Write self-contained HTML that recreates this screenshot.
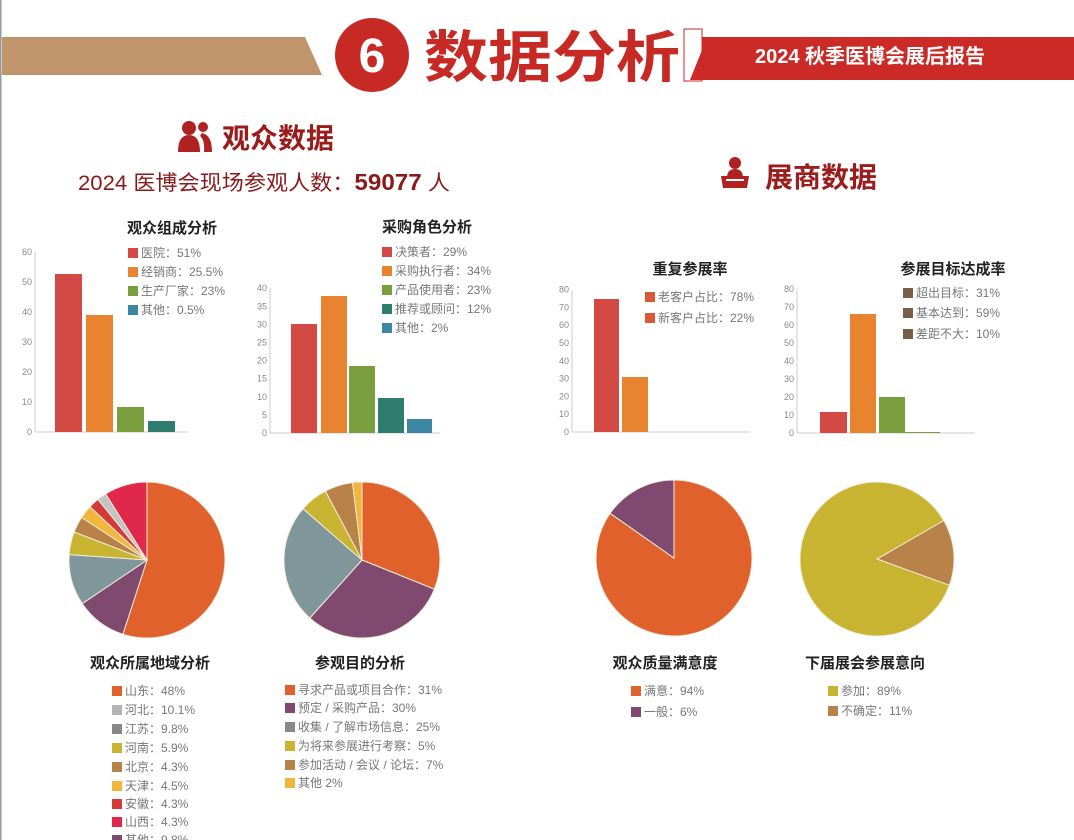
<!DOCTYPE html>
<html><head><meta charset="utf-8">
<style>
html,body{margin:0;padding:0;background:#fff;}
body{width:1074px;height:840px;overflow:hidden;position:relative;font-family:"Liberation Sans","Noto Sans CJK SC",sans-serif;}
svg{position:absolute;left:0;top:0;}
text{font-family:"Liberation Sans","Noto Sans CJK SC",sans-serif;}
.t{font-size:15px;font-weight:bold;fill:#222;text-anchor:middle;}
.lg{font-size:12px;fill:#777;}
.ax{font-size:9px;fill:#888;text-anchor:end;}
</style></head><body>
<svg id="s" width="1074" height="840" viewBox="0 0 1074 840">
<rect x="0" y="0" width="1.5" height="840" fill="#999"/>
<polygon points="2,37 305,37 322,75 2,75" fill="#c0956b"/>
<polygon points="700,37 1074,37 1074,80 690,80" fill="#cc2a27"/>
<rect x="684" y="29" width="18" height="52" fill="#fff" stroke="#cc2a27" stroke-width="1"/>
<polygon points="702,50 702,80 690,80" fill="#cc2a27"/>
<circle cx="372" cy="55" r="37" fill="#c72a24"/>
<text x="372" y="72" font-size="48" font-weight="bold" fill="#fff" text-anchor="middle">6</text>
<text x="424" y="77" font-size="56" font-weight="bold" fill="#c72a24" textLength="256" lengthAdjust="spacingAndGlyphs">数据分析</text>
<text x="870" y="63" font-size="20" font-weight="bold" fill="#fff" text-anchor="middle">2024 秋季医博会展后报告</text>
<circle cx="189" cy="128" r="7" fill="#b02222"/>
<path d="M178,152 Q178,135 189,135 Q200,135 200,152Z" fill="#b02222"/>
<circle cx="203" cy="127" r="5" fill="#b02222"/>
<path d="M202,133 Q212,135 212,152 L204,152 Q205,140 200,136Z" fill="#b02222"/>
<text x="222" y="148" font-size="28" font-weight="bold" fill="#9c1c1c">观众数据</text>
<text x="78" y="190" font-size="21" fill="#8a1a1a" textLength="372" lengthAdjust="spacingAndGlyphs">2024 医博会现场参观人数：<tspan font-weight="bold" font-size="23">59077</tspan> 人</text>
<circle cx="735" cy="163" r="6" fill="#b02222"/>
<path d="M727,178 Q727,169 735,169 Q743,169 743,178Z" fill="#b02222"/>
<path d="M721,176 L749,176 L747,188 L723,188Z" fill="#b02222"/>
<rect x="726" y="179" width="18" height="2" fill="#fff"/>
<text x="765" y="187" font-size="28" font-weight="bold" fill="#9c1c1c">展商数据</text>

<text class="t" x="172" y="233">观众组成分析</text>
<text class="t" x="427" y="232">采购角色分析</text>
<text class="t" x="690" y="274">重复参展率</text>
<text class="t" x="953" y="274" fill="#5a4a3a">参展目标达成率</text>

<g id="g"></g>

<text class="t" x="150" y="668">观众所属地域分析</text>
<text class="t" x="360" y="668">参观目的分析</text>
<text class="t" x="665" y="668">观众质量满意度</text>
<text class="t" x="865" y="668">下届展会参展意向</text>
</svg>
<script>
var g=document.getElementById('g'),h='';
function rect(x,y,w,hh,c){h+='<rect x="'+x+'" y="'+y+'" width="'+w+'" height="'+hh+'" fill="'+c+'"/>';}
function txt(x,y,s,cls){h+='<text class="'+cls+'" x="'+x+'" y="'+y+'">'+s+'</text>';}
function axis(x,y0,y1,x2,ticks){h+='<line x1="'+x+'" y1="'+y0+'" x2="'+x+'" y2="'+y1+'" stroke="#ccc"/>';h+='<line x1="'+x+'" y1="'+y0+'" x2="'+x2+'" y2="'+y0+'" stroke="#ccc"/>';
 ticks.forEach(function(t){txt(x-3,t[1]+3,t[0],'ax');});}
function bars(b){b.forEach(function(a){rect(a[0],a[1],a[2],a[3]-a[1],a[4]);});}
function legend(x,rows){rows.forEach(function(r){rect(x,r[0]-5,10,10,r[2]);txt(x+13,r[0]+4,r[1],'lg');});}
var t=[];for(var i=0;i<=6;i++)t.push([i*10,432-i*30]);axis(35,432,252,188,t);
bars([[55,274,27,432,'#d24a43'],[86,315,27,432,'#e8832f'],[117,407,27,432,'#789e3e'],[148,421,27,432,'#2f7d6e']]);
legend(128,[[253,'医院：51%','#d24a43'],[272,'经销商：25.5%','#e8832f'],[291,'生产厂家：23%','#789e3e'],[310,'其他：0.5%','#3b87a3']]);
t=[];for(var i=0;i<=8;i++)t.push([i*5,433-i*18.1]);axis(270,433,288,440,t);
bars([[291,324,26,433,'#d24a43'],[321,296,26,433,'#e8832f'],[349,366,26,433,'#789e3e'],[378,398,26,433,'#2f7d6e'],[407,419,25,433,'#3b87a3']]);
legend(382,[[252,'决策者：29%','#d24a43'],[271,'采购执行者：34%','#e8832f'],[290,'产品使用者：23%','#789e3e'],[309,'推荐或顾问：12%','#2f7d6e'],[328,'其他：2%','#3b87a3']]);
t=[];for(var i=0;i<=8;i++)t.push([i*10,432-i*17.8]);axis(572,432,290,750,t);
bars([[594,299,25,432,'#d24a43'],[622,377,26,432,'#e8832f']]);
legend(645,[[297,'老客户占比：78%','#d9583a'],[318,'新客户占比：22%','#d9583a']]);
t=[];for(var i=0;i<=8;i++)t.push([i*10,433-i*18]);axis(797,433,288,975,t);
bars([[820,412,27,433,'#d24a43'],[850,314,26,433,'#e8832f'],[879,397,26,433,'#789e3e'],[905,432,35,433,'#789e3e']]);
legend(903,[[293,'超出目标：31%','#7a5f48'],[313,'基本达到：59%','#7a5f48'],[334,'差距不大：10%','#7a5f48']]);
function pie(cx,cy,r,sl,start){var a0=start||0;sl.forEach(function(s){var a1=s[0];var r0=(a0-90)*Math.PI/180,r1=(a1-90)*Math.PI/180;
 var large=(a1-a0)>180?1:0;
 h+='<path d="M'+cx+','+cy+' L'+(cx+r*Math.cos(r0)).toFixed(1)+','+(cy+r*Math.sin(r0)).toFixed(1)+' A'+r+','+r+' 0 '+large+' 1 '+(cx+r*Math.cos(r1)).toFixed(1)+','+(cy+r*Math.sin(r1)).toFixed(1)+' Z" fill="'+s[1]+'" stroke="#f3ead8" stroke-width="1"/>';a0=a1;});}
pie(147,560,78,[[198,'#e0612b'],[236,'#80496f'],[274,'#7f979b'],[291,'#c8b431'],[303,'#b88248'],[313,'#f0b73c'],[321,'#d43a3a'],[328,'#c4c4c4'],[360,'#e0284a']]);
pie(362,560,78,[[112,'#e0612b'],[222,'#80496f'],[311,'#7f979b'],[332,'#c8b431'],[353,'#b88248'],[360,'#f0b73c']]);
pie(674,558,78,[[305,'#e0612b'],[360,'#80496f']]);
pie(877,559,77,[[110,'#b88248'],[420,'#c8b431']],60);
legend(112,[[691,'山东：48%','#e0612b'],[710,'河北：10.1%','#b4b4b4'],[729,'江苏：9.8%','#888'],[748,'河南：5.9%','#c8b431'],[767,'北京：4.3%','#b88248'],[786,'天津：4.5%','#f0b73c'],[804,'安徽：4.3%','#d43a3a'],[822,'山西：4.3%','#e0284a'],[840,'其他：9.8%','#80496f']]);
legend(285,[[690,'寻求产品或项目合作：31%','#e0612b'],[708,'预定 / 采购产品：30%','#80496f'],[727,'收集 / 了解市场信息：25%','#888'],[746,'为将来参展进行考察：5%','#c8b431'],[765,'参加活动 / 会议 / 论坛：7%','#b88248'],[783,'其他 2%','#f0b73c']]);
legend(631,[[691,'满意：94%','#e0612b'],[712,'一般：6%','#80496f']]);
legend(828,[[691,'参加：89%','#c8b431'],[711,'不确定：11%','#b88248']]);
g.innerHTML=h;
</script>
</body></html>
